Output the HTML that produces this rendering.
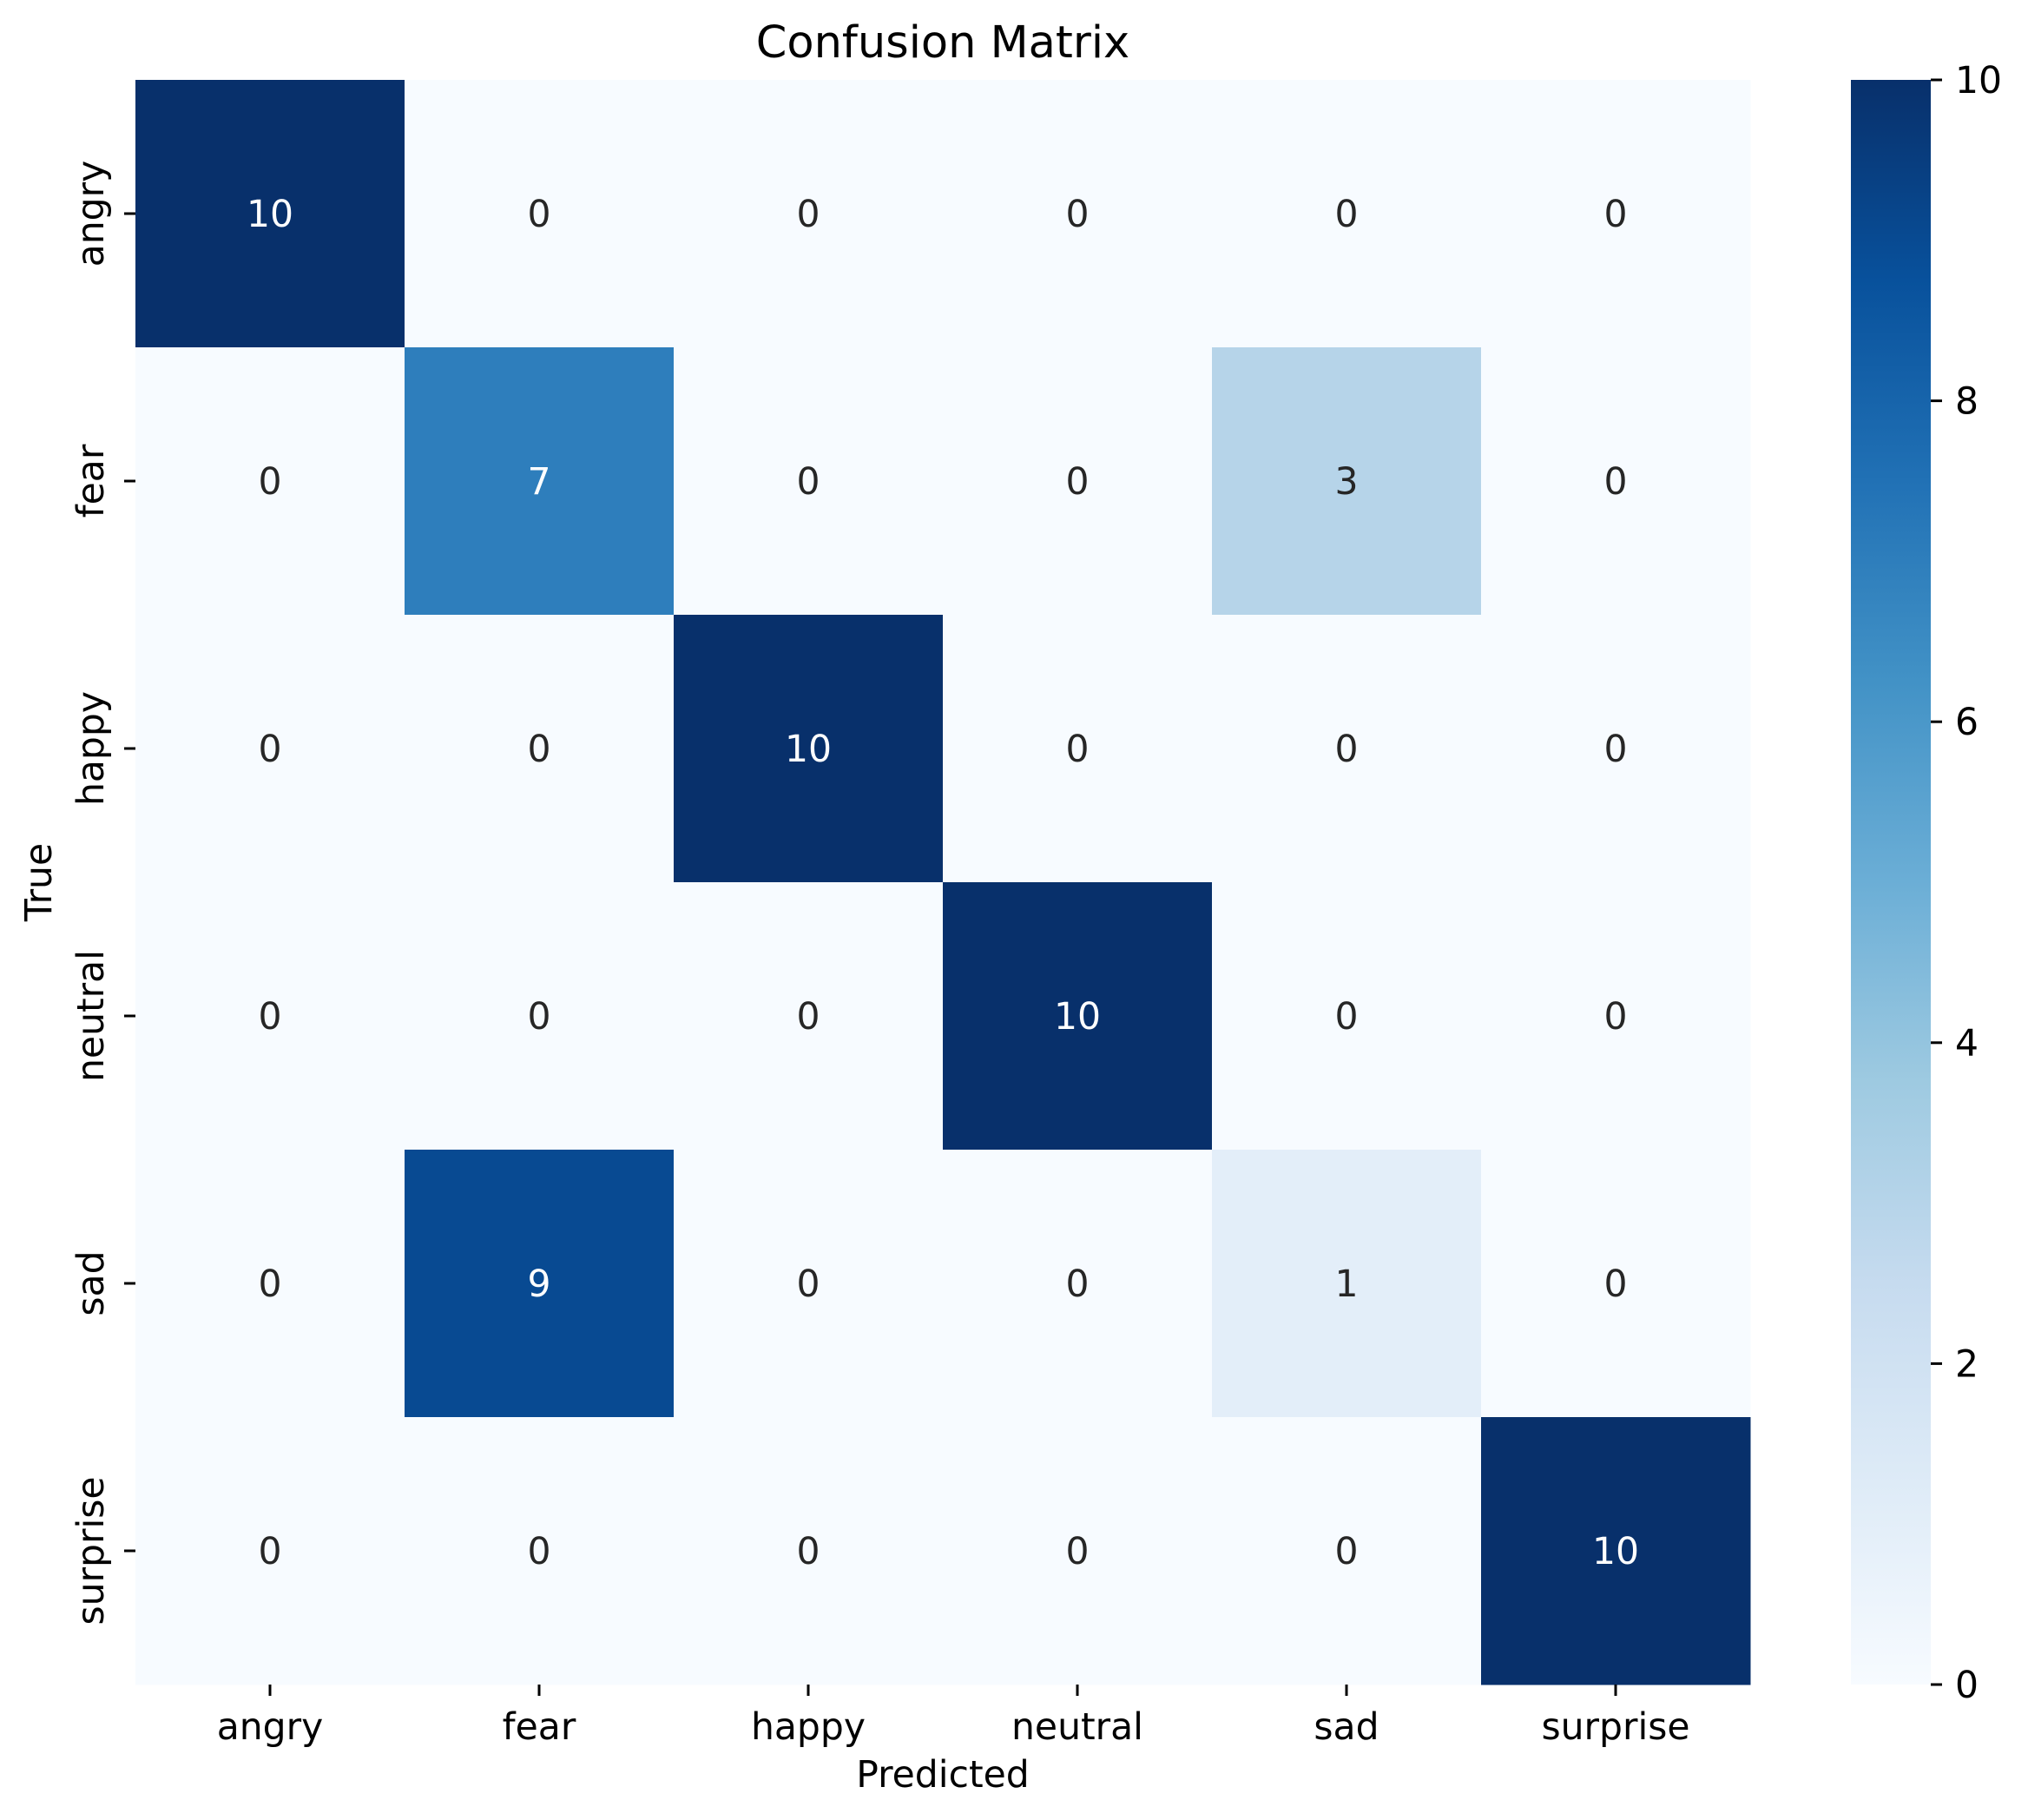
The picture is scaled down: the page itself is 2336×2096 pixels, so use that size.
<!DOCTYPE html>
<html><head><meta charset="utf-8"><style>
html,body{margin:0;padding:0;background:#fff;}
svg{display:block;font-family:"DejaVu Sans","Liberation Sans",sans-serif;}
</style></head><body>
<svg id="chart" width="2336" height="2096" viewBox="0 0 2336 2096" xmlns="http://www.w3.org/2000/svg">
<defs>
<linearGradient id="blues" x1="0" y1="1" x2="0" y2="0">
<stop offset="0" stop-color="#f7fbff"/><stop offset="0.125" stop-color="#deebf7"/>
<stop offset="0.25" stop-color="#c6dbef"/><stop offset="0.375" stop-color="#9ecae1"/>
<stop offset="0.5" stop-color="#6baed6"/><stop offset="0.625" stop-color="#4292c6"/>
<stop offset="0.75" stop-color="#2171b5"/><stop offset="0.875" stop-color="#08519c"/>
<stop offset="1" stop-color="#08306b"/>
</linearGradient>
</defs>
<text x="1086" y="66" font-size="51" text-anchor="middle" fill="#000">Confusion Matrix</text>
<g id="cells"></g>
<g id="axes"></g>
<rect x="2132" y="92" width="92" height="1848" fill="url(#blues)"/>
<g id="cbar"></g>
<text x="1086" y="2058" font-size="42.5" text-anchor="middle">Predicted</text>
<text x="0" y="0" font-size="42.5" text-anchor="middle" transform="translate(59,1016) rotate(-90)">True</text>
</svg>
<script>
const labels = ["angry","fear","happy","neutral","sad","surprise"];
const row0 = [10,0,0,0,0,0];
const row1 = [0,7,0,0,3,0];
const row2 = [0,0,10,0,0,0];
const row3 = [0,0,0,10,0,0];
const row4 = [0,9,0,0,1,0];
const row5 = [0,0,0,0,0,10];
const cbTicks = [0,2,4,6,8,10];
const rows = [row0,row1,row2,row3,row4,row5];
const vmin = 0, vmax = 10;
const L = 156, R = 2016, T = 92, B = 1940;
const cw = (R - L) / labels.length, ch = (B - T) / labels.length;
const xPos = i => L + i * cw;
const yPos = j => T + j * ch;
const stops = [[0,[247,251,255]],[0.125,[222,235,247]],[0.25,[198,219,239]],[0.375,[158,202,225]],[0.5,[107,174,214]],[0.625,[66,146,198]],[0.75,[33,113,181]],[0.875,[8,81,156]],[1,[8,48,107]]];
function color(v){
  let t = Math.max(0, Math.min(1, (v - vmin) / (vmax - vmin)));
  for (let k = 1; k < stops.length; k++) {
    if (t <= stops[k][0]) {
      const a = stops[k-1], b = stops[k], f = (t - a[0]) / (b[0] - a[0]);
      const c = a[1].map((x, i) => Math.round(x + (b[1][i] - x) * f));
      return `rgb(${c[0]},${c[1]},${c[2]})`;
    }
  }
  return "rgb(8,48,107)";
}
const NS = "http://www.w3.org/2000/svg";
function mk(tag, attrs, parent){
  const e = document.createElementNS(NS, tag);
  for (const k in attrs) e.setAttribute(k, attrs[k]);
  parent.appendChild(e); return e;
}
const cells = document.getElementById("cells");
const axes = document.getElementById("axes");
rows.forEach((r, j) => r.forEach((v, i) => {
  const rc = mk("rect", {x: xPos(i), y: yPos(j), width: cw + 0.5, height: ch + 0.5, fill: color(v)}, cells);
  
  
  const t = mk("text", {x: xPos(i) + cw/2, y: yPos(j) + ch/2 + 15, "font-size": 42.5, "text-anchor": "middle", fill: (v - vmin) / (vmax - vmin) > 0.5 ? "#fff" : "#262626"}, cells);
  t.textContent = v;
  
  
}));
labels.forEach((lab, i) => {
  const cx = xPos(i) + cw/2;
  const tk = mk("line", {x1: cx, x2: cx, y1: B, y2: B + 13, stroke: "#000", "stroke-width": 3}, axes);
  
  
  const tx = mk("text", {x: cx, y: 2003, "font-size": 42.5, "text-anchor": "middle"}, axes);
  tx.textContent = lab;
  
  
  const cy = yPos(i) + ch/2;
  const tk2 = mk("line", {x1: L - 13, x2: L, y1: cy, y2: cy, stroke: "#000", "stroke-width": 3}, axes);
  
  
  const ty = mk("text", {x: 0, y: 0, "font-size": 42.5, "text-anchor": "middle", transform: `translate(119,${cy}) rotate(-90)`}, axes);
  ty.textContent = lab;
  
  
});
const cbar = document.getElementById("cbar");
cbTicks.forEach(v => {
  const y = B - (v - vmin) / (vmax - vmin) * (B - T);
  const l = mk("line", {x1: 2224, x2: 2237, y1: y, y2: y, stroke: "#000", "stroke-width": 3}, cbar);
  
  
  const t = mk("text", {x: 2252, y: y + 15, "font-size": 42.5}, cbar);
  t.textContent = v;
  
  
});
</script>
</body></html>
